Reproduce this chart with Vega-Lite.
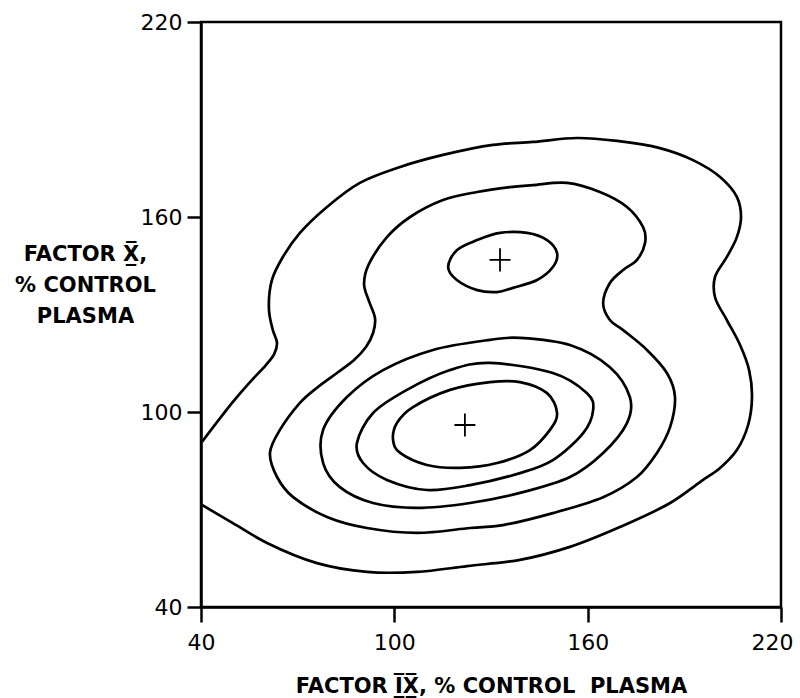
{
  "$schema": "https://vega.github.io/schema/vega-lite/v6.json",
  "width": 580,
  "height": 585,
  "autosize": {"type": "none"},
  "padding": {"left": 201, "top": 22, "right": 19, "bottom": 91},
  "background": "white",
  "config": {
    "view": {"stroke": "black", "strokeWidth": 2.5},
    "axis": {
      "grid": false,
      "domainColor": "black",
      "domainWidth": 2.5,
      "tickColor": "black",
      "tickWidth": 2.5,
      "labelFlush": false,
      "labelFont": "DejaVu Sans",
      "labelFontSize": 22,
      "labelColor": "black",
      "titleFont": "DejaVu Sans",
      "titleFontSize": 21,
      "titleFontWeight": "bold",
      "titleColor": "black"
    }
  },
  "datasets": {
    "open": [
      {"c": 1, "o": 1, "x": 40.3, "y": 90.8},
      {"c": 1, "o": 2, "x": 49.9, "y": 103.1},
      {"c": 1, "o": 3, "x": 55.2, "y": 109.2},
      {"c": 1, "o": 4, "x": 60.2, "y": 114.5},
      {"c": 1, "o": 5, "x": 62.7, "y": 117.8},
      {"c": 1, "o": 6, "x": 63.6, "y": 121.2},
      {"c": 1, "o": 7, "x": 62.3, "y": 125.2},
      {"c": 1, "o": 8, "x": 61.1, "y": 131.4},
      {"c": 1, "o": 9, "x": 62.0, "y": 140.6},
      {"c": 1, "o": 10, "x": 65.4, "y": 147.7},
      {"c": 1, "o": 11, "x": 70.7, "y": 155.1},
      {"c": 1, "o": 12, "x": 79.1, "y": 163.1},
      {"c": 1, "o": 13, "x": 89.3, "y": 170.5},
      {"c": 1, "o": 14, "x": 101.8, "y": 175.4},
      {"c": 1, "o": 15, "x": 115.1, "y": 179.1},
      {"c": 1, "o": 16, "x": 130.6, "y": 182.2},
      {"c": 1, "o": 17, "x": 143.0, "y": 183.1},
      {"c": 1, "o": 18, "x": 156.7, "y": 184.3},
      {"c": 1, "o": 19, "x": 169.1, "y": 183.4},
      {"c": 1, "o": 20, "x": 182.4, "y": 181.2},
      {"c": 1, "o": 21, "x": 192.7, "y": 177.5},
      {"c": 1, "o": 22, "x": 201.1, "y": 172.3},
      {"c": 1, "o": 23, "x": 206.3, "y": 166.2},
      {"c": 1, "o": 24, "x": 207.6, "y": 160.0},
      {"c": 1, "o": 25, "x": 206.3, "y": 153.8},
      {"c": 1, "o": 26, "x": 203.2, "y": 147.7},
      {"c": 1, "o": 27, "x": 199.5, "y": 141.5},
      {"c": 1, "o": 28, "x": 199.5, "y": 135.4},
      {"c": 1, "o": 29, "x": 203.2, "y": 128.3},
      {"c": 1, "o": 30, "x": 207.3, "y": 120.6},
      {"c": 1, "o": 31, "x": 210.1, "y": 112.9},
      {"c": 1, "o": 32, "x": 211.0, "y": 104.6},
      {"c": 1, "o": 33, "x": 209.8, "y": 96.0},
      {"c": 1, "o": 34, "x": 206.3, "y": 88.3},
      {"c": 1, "o": 35, "x": 201.1, "y": 82.8},
      {"c": 1, "o": 36, "x": 195.8, "y": 79.1},
      {"c": 1, "o": 37, "x": 185.6, "y": 72.0},
      {"c": 1, "o": 38, "x": 170.0, "y": 64.6},
      {"c": 1, "o": 39, "x": 154.5, "y": 58.5},
      {"c": 1, "o": 40, "x": 139.0, "y": 54.5},
      {"c": 1, "o": 41, "x": 122.6, "y": 52.6},
      {"c": 1, "o": 42, "x": 107.0, "y": 50.8},
      {"c": 1, "o": 43, "x": 91.5, "y": 50.8},
      {"c": 1, "o": 44, "x": 76.0, "y": 53.5},
      {"c": 1, "o": 45, "x": 60.5, "y": 59.7},
      {"c": 1, "o": 46, "x": 49.9, "y": 65.8},
      {"c": 1, "o": 47, "x": 40.3, "y": 71.4}
    ],
    "closed": [
      {"c": 2, "o": 1, "x": 135.9, "y": 169.2},
      {"c": 2, "o": 2, "x": 143.0, "y": 169.8},
      {"c": 2, "o": 3, "x": 153.6, "y": 170.5},
      {"c": 2, "o": 4, "x": 163.8, "y": 167.7},
      {"c": 2, "o": 5, "x": 172.2, "y": 163.1},
      {"c": 2, "o": 6, "x": 177.2, "y": 156.9},
      {"c": 2, "o": 7, "x": 177.8, "y": 152.0},
      {"c": 2, "o": 8, "x": 175.3, "y": 146.8},
      {"c": 2, "o": 9, "x": 171.0, "y": 143.7},
      {"c": 2, "o": 10, "x": 166.9, "y": 139.7},
      {"c": 2, "o": 11, "x": 164.8, "y": 133.5},
      {"c": 2, "o": 12, "x": 166.9, "y": 128.3},
      {"c": 2, "o": 13, "x": 171.0, "y": 125.2},
      {"c": 2, "o": 14, "x": 178.4, "y": 119.1},
      {"c": 2, "o": 15, "x": 184.6, "y": 112.0},
      {"c": 2, "o": 16, "x": 187.1, "y": 104.6},
      {"c": 2, "o": 17, "x": 185.6, "y": 95.4},
      {"c": 2, "o": 18, "x": 181.5, "y": 87.4},
      {"c": 2, "o": 19, "x": 175.3, "y": 80.0},
      {"c": 2, "o": 20, "x": 164.8, "y": 73.8},
      {"c": 2, "o": 21, "x": 149.2, "y": 68.9},
      {"c": 2, "o": 22, "x": 133.7, "y": 65.2},
      {"c": 2, "o": 23, "x": 123.5, "y": 64.3},
      {"c": 2, "o": 24, "x": 107.0, "y": 62.8},
      {"c": 2, "o": 25, "x": 91.5, "y": 64.3},
      {"c": 2, "o": 26, "x": 79.1, "y": 67.7},
      {"c": 2, "o": 27, "x": 68.6, "y": 73.8},
      {"c": 2, "o": 28, "x": 63.6, "y": 80.0},
      {"c": 2, "o": 29, "x": 61.4, "y": 87.4},
      {"c": 2, "o": 30, "x": 64.5, "y": 94.5},
      {"c": 2, "o": 31, "x": 70.7, "y": 102.8},
      {"c": 2, "o": 32, "x": 76.3, "y": 107.7},
      {"c": 2, "o": 33, "x": 82.2, "y": 112.0},
      {"c": 2, "o": 34, "x": 87.5, "y": 116.0},
      {"c": 2, "o": 35, "x": 91.2, "y": 120.0},
      {"c": 2, "o": 36, "x": 93.4, "y": 124.3},
      {"c": 2, "o": 37, "x": 94.0, "y": 128.9},
      {"c": 2, "o": 38, "x": 92.1, "y": 134.2},
      {"c": 2, "o": 39, "x": 90.6, "y": 139.4},
      {"c": 2, "o": 40, "x": 92.1, "y": 145.5},
      {"c": 2, "o": 41, "x": 97.7, "y": 153.8},
      {"c": 2, "o": 42, "x": 104.9, "y": 160.0},
      {"c": 2, "o": 43, "x": 115.1, "y": 165.2},
      {"c": 2, "o": 44, "x": 125.7, "y": 167.7},

      {"c": 3, "o": 1, "x": 129.7, "y": 122.2},
      {"c": 3, "o": 2, "x": 139.0, "y": 122.8},
      {"c": 3, "o": 3, "x": 154.5, "y": 120.6},
      {"c": 3, "o": 4, "x": 166.9, "y": 113.8},
      {"c": 3, "o": 5, "x": 173.1, "y": 104.6},
      {"c": 3, "o": 6, "x": 172.2, "y": 96.6},
      {"c": 3, "o": 7, "x": 164.8, "y": 87.4},
      {"c": 3, "o": 8, "x": 154.5, "y": 80.0},
      {"c": 3, "o": 9, "x": 139.0, "y": 75.1},
      {"c": 3, "o": 10, "x": 123.5, "y": 72.0},
      {"c": 3, "o": 11, "x": 107.0, "y": 70.5},
      {"c": 3, "o": 12, "x": 93.4, "y": 72.0},
      {"c": 3, "o": 13, "x": 83.1, "y": 76.9},
      {"c": 3, "o": 14, "x": 77.9, "y": 84.3},
      {"c": 3, "o": 15, "x": 77.9, "y": 94.5},
      {"c": 3, "o": 16, "x": 85.3, "y": 104.6},
      {"c": 3, "o": 17, "x": 96.5, "y": 112.9},
      {"c": 3, "o": 18, "x": 112.0, "y": 119.1},

      {"c": 4, "o": 1, "x": 129.7, "y": 115.1},
      {"c": 4, "o": 2, "x": 149.2, "y": 112.0},
      {"c": 4, "o": 3, "x": 159.8, "y": 105.8},
      {"c": 4, "o": 4, "x": 161.7, "y": 100.6},
      {"c": 4, "o": 5, "x": 158.6, "y": 93.5},
      {"c": 4, "o": 6, "x": 149.2, "y": 85.2},
      {"c": 4, "o": 7, "x": 139.0, "y": 81.2},
      {"c": 4, "o": 8, "x": 123.5, "y": 77.5},
      {"c": 4, "o": 9, "x": 110.1, "y": 76.0},
      {"c": 4, "o": 10, "x": 97.7, "y": 79.1},
      {"c": 4, "o": 11, "x": 90.3, "y": 84.3},
      {"c": 4, "o": 12, "x": 88.4, "y": 90.5},
      {"c": 4, "o": 13, "x": 93.4, "y": 99.7},
      {"c": 4, "o": 14, "x": 103.9, "y": 106.8},
      {"c": 4, "o": 15, "x": 117.3, "y": 112.9},

      {"c": 5, "o": 1, "x": 129.7, "y": 109.2},
      {"c": 5, "o": 2, "x": 139.0, "y": 109.2},
      {"c": 5, "o": 3, "x": 147.4, "y": 105.8},
      {"c": 5, "o": 4, "x": 150.5, "y": 99.7},
      {"c": 5, "o": 5, "x": 148.3, "y": 94.5},
      {"c": 5, "o": 6, "x": 142.1, "y": 88.3},
      {"c": 5, "o": 7, "x": 131.9, "y": 84.3},
      {"c": 5, "o": 8, "x": 120.4, "y": 82.8},
      {"c": 5, "o": 9, "x": 110.1, "y": 83.7},
      {"c": 5, "o": 10, "x": 101.8, "y": 87.4},
      {"c": 5, "o": 11, "x": 99.6, "y": 91.4},
      {"c": 5, "o": 12, "x": 100.8, "y": 96.6},
      {"c": 5, "o": 13, "x": 105.8, "y": 101.5},
      {"c": 5, "o": 14, "x": 117.3, "y": 106.8},

      {"c": 6, "o": 1, "x": 132.8, "y": 155.1},
      {"c": 6, "o": 2, "x": 141.2, "y": 155.1},
      {"c": 6, "o": 3, "x": 147.4, "y": 152.9},
      {"c": 6, "o": 4, "x": 150.5, "y": 148.9},
      {"c": 6, "o": 5, "x": 149.2, "y": 144.6},
      {"c": 6, "o": 6, "x": 144.3, "y": 140.6},
      {"c": 6, "o": 7, "x": 136.8, "y": 138.2},
      {"c": 6, "o": 8, "x": 131.9, "y": 136.9},
      {"c": 6, "o": 9, "x": 125.7, "y": 137.5},
      {"c": 6, "o": 10, "x": 119.4, "y": 140.6},
      {"c": 6, "o": 11, "x": 116.7, "y": 144.6},
      {"c": 6, "o": 12, "x": 119.4, "y": 149.8},
      {"c": 6, "o": 13, "x": 125.7, "y": 152.9}
    ],
    "peaks": [
      {"x": 132.8, "y": 146.8},
      {"x": 121.9, "y": 96.0}
    ]
  },
  "layer": [
    {
      "data": {"name": "open"},
      "mark": {"type": "line", "interpolate": "catmull-rom", "stroke": "black", "strokeWidth": 2.7},
      "encoding": {
        "x": {
          "field": "x", "type": "quantitative",
          "scale": {"domain": [40, 220], "nice": false, "zero": false},
          "axis": {
            "values": [40, 100, 160, 220],
            "tickSize": 15,
            "labelPadding": 10,
            "labelOffset": {"condition": {"test": "datum.value == 220", "value": -9}, "value": 0},
            "title": "FACTOR I\u0332\u0305X\u0332\u0305, % CONTROL\u00a0\u00a0PLASMA",
            "titleY": 85,
            "titleBaseline": "alphabetic"
          }
        },
        "y": {
          "field": "y", "type": "quantitative",
          "scale": {"domain": [40, 220], "nice": false, "zero": false},
          "axis": {
            "values": [40, 100, 160, 220],
            "tickSize": 14,
            "labelPadding": 5,
            "title": ["FACTOR X\u0332\u0305,", "% CONTROL", "PLASMA"],
            "titleAngle": 0,
            "titleAlign": "center",
            "titleBaseline": "alphabetic",
            "titleX": -116,
            "titleY": 238,
            "titleLineHeight": 31
          }
        },
        "order": {"field": "o", "type": "quantitative"},
        "detail": {"field": "c"}
      }
    },
    {
      "data": {"name": "closed"},
      "mark": {"type": "line", "interpolate": "cardinal-closed", "stroke": "black", "strokeWidth": 2.7},
      "encoding": {
        "x": {"field": "x", "type": "quantitative"},
        "y": {"field": "y", "type": "quantitative"},
        "order": {"field": "o", "type": "quantitative"},
        "detail": {"field": "c"}
      }
    },
    {
      "data": {"name": "peaks"},
      "mark": {"type": "point", "shape": "M-1,0L1,0M0,-1.1L0,1.1", "filled": false, "stroke": "black", "strokeWidth": 1.8, "size": 440, "opacity": 1},
      "encoding": {
        "x": {"field": "x", "type": "quantitative"},
        "y": {"field": "y", "type": "quantitative"}
      }
    }
  ]
}
